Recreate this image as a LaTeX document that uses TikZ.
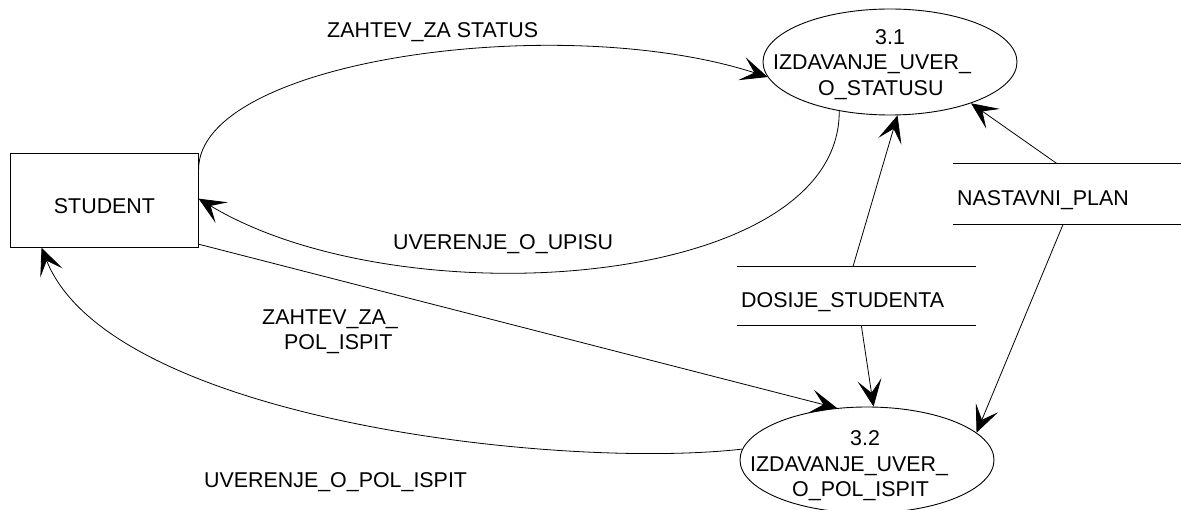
\documentclass[tikz,border=0pt]{standalone}
\usepackage{fontspec}
\setmainfont{Liberation Sans}
\usetikzlibrary{arrows.meta,shapes.geometric,calc}
\begin{document}
\begin{tikzpicture}[x=1pt,y=-1pt,
  txt/.style={font=\fontsize{21.4}{25.5}\selectfont, inner sep=0pt},
  proc/.style={draw, ellipse, line width=0.9pt, minimum width=254pt, minimum height=106pt, inner sep=0pt},
  ent/.style={draw, rectangle, line width=0.9pt, minimum width=187.3pt, minimum height=94pt, inner sep=0pt},
  store/.style={rectangle, inner sep=0pt},
  storeline/.style={line width=0.9pt},
  flow/.style={line width=0.8pt, -{Stealth[length=27pt,width=24pt,inset=13pt]}}]
\useasboundingbox (0,0) rectangle (1181,510);

% entity
\node[ent, txt, text height=27.4pt, text depth=0pt] (stu) at (104.5,200.3) {STUDENT};

% processes
\node[proc] (p31) at (890,62) {};
\node[txt, align=left, anchor=west] (p31t) at (773,64.5)
  {\hspace*{102pt}3.1\\IZDAVANJE\_UVER\_\\\hspace*{45pt}O\_STATUSU};
\node[proc] (p32) at (867,460) {};
\node[txt, align=left, anchor=west] (p32t) at (750,466)
  {\hspace*{100pt}3.2\\IZDAVANJE\_UVER\_\\\hspace*{42pt}O\_POL\_ISPIT};

% data stores
\node[store, minimum width=239pt, minimum height=58pt] (dos) at (856.5,296) {};
\draw[storeline] (dos.north west) -- (dos.north east);
\draw[storeline] (dos.south west) -- (dos.south east);
\node[txt, anchor=base west] (dost) at (741,307.7) {DOSIJE\_STUDENTA};

\node[store, minimum width=227.5pt, minimum height=60pt] (np) at (1067.25,194) {};
\draw[storeline] (np.north west) -- (np.north east);
\draw[storeline] (np.south west) -- (np.south east);
\node[txt, anchor=base west] (npt) at (957,205.7) {NASTAVNI\_PLAN};

% flows
\draw[flow] (stu.18) .. controls (198,60) and (560,10) .. (p31.187);
\node[txt, anchor=base west] (l1) at (327,37.7) {ZAHTEV\_ZA STATUS};

\draw[flow] (p31.224) .. controls (840,290) and (400,320) .. (stu.1.4);
\node[txt, anchor=base west] (l2) at (393,249.7) {UVERENJE\_O\_UPISU};

\draw[flow] (stu.-25) -- (p32.120.5);
\node[txt, align=left, anchor=west] (l3) at (262,332) {ZAHTEV\_ZA\_\\\hspace*{22pt}POL\_ISPIT};

\draw[flow] (p32.175.5) .. controls (560,470) and (110,420) .. (stu.217.8);
\node[txt, anchor=base west] (l4) at (204,487.7) {UVERENJE\_O\_POL\_ISPIT};

\draw[flow] ($(dos.north west)!0.485!(dos.north east)$) -- (p31.278);
\draw[flow] ($(dos.south west)!0.52!(dos.south east)$) -- (p32.83.4);
\draw[flow] ($(np.north west)!0.456!(np.north east)$) -- (p31.333);
\draw[flow] ($(np.south west)!0.482!(np.south east)$) -- (p32.14.5);
\end{tikzpicture}
\end{document}
